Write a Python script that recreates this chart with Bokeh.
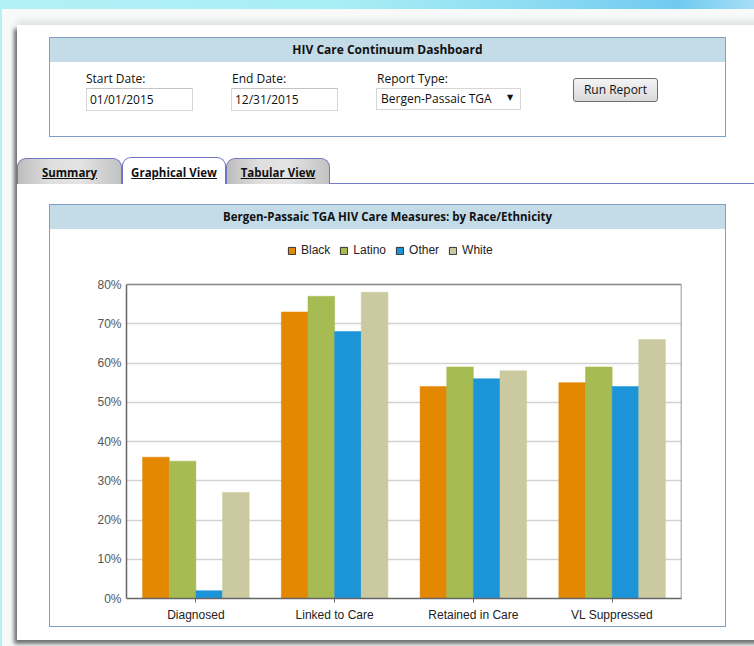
from bokeh.plotting import figure
from bokeh.models import (FactorRange, Range1d, Legend, LegendItem, FixedTicker,
                          PrintfTickFormatter, ColumnDataSource, Span, Div)
from bokeh.layouts import column, row
from bokeh.transform import dodge
from bokeh.embed import file_html
from bokeh.resources import INLINE

# ---------------- data ----------------
categories = ["Diagnosed", "Linked to Care", "Retained in Care", "VL Suppressed"]
series_names = ["Black", "Latino", "Other", "White"]
black = [36, 73, 54, 55]
latino = [35, 77, 59, 59]
other = [2, 68, 56, 54]
white = [27, 78, 58, 66]
colors = ["#E38800", "#A6BC52", "#1B95D8", "#CBC9A0"]
y_ticks = [0, 10, 20, 30, 40, 50, 60, 70, 80]
y_max = 80

chart_title = "Bergen-Passaic TGA HIV Care Measures: by Race/Ethnicity"
dash_title = "HIV Care Continuum Dashboard"
start_date = "01/01/2015"
end_date = "12/31/2015"
report_type = "Bergen-Passaic TGA"
tabs = ["Summary", "Graphical View", "Tabular View"]

# ---------------- geometry (page pixels) ----------------
PW, PH = 754, 646
FIG_L, FIG_T, FIG_R, FIG_B = 50, 229, 725, 626      # figure area inside chart panel
F_L, F_R, F_T, F_B = 126, 681, 231, 598             # plotting frame
Y80 = 284                                           # pixel row of the 80% line
y_end = y_max * (F_B - F_T) / (F_B - Y80)

src = ColumnDataSource(dict(cat=categories, Black=black, Latino=latino, Other=other, White=white))

p = figure(width=FIG_R - FIG_L, height=FIG_B - FIG_T,
           x_range=FactorRange(*categories, range_padding=0),
           y_range=Range1d(0, y_end), output_backend="svg", toolbar_location=None,
           min_border_left=F_L - FIG_L, min_border_right=FIG_R - F_R,
           min_border_top=F_T - FIG_T, min_border_bottom=FIG_B - F_B, margin=0)
p.border_fill_color = "white"
p.background_fill_color = "white"
p.outline_line_color = None

bw = 0.192
offsets = [-1.5 * bw, -0.5 * bw, 0.5 * bw, 1.5 * bw]
legend_items = []
for name, col, off in zip(series_names, colors, offsets):
    p.vbar(x=dodge("cat", off, range=p.x_range), top=name, width=bw, bottom=0, source=src,
           fill_color=col, line_color=col, line_alpha=0.5)
    # hidden twin used only for the legend swatch (dark outline like the original)
    proxy = p.vbar(x=dodge("cat", off, range=p.x_range), top=name, width=bw, bottom=0, source=src,
                   fill_color=col, line_color="#333333", line_width=1, visible=False)
    legend_items.append(LegendItem(label=name, renderers=[proxy]))

# frame border at top (80%) and right
p.add_layout(Span(location=y_max, dimension="width", line_color="#8a8a8a", line_width=1.5))
p.segment(x0=[len(categories)], y0=[0], x1=[len(categories)], y1=[y_max],
          line_color="#777777", line_width=1.5)

# axes
p.yaxis.ticker = FixedTicker(ticks=y_ticks)
p.yaxis.formatter = PrintfTickFormatter(format="%d%%")
p.yaxis.bounds = (0, y_max)
for ax in (p.xaxis[0], p.yaxis[0]):
    ax.axis_line_color = "#666666"
    ax.axis_line_width = 1.5
    ax.major_tick_line_color = "#666666"
    ax.minor_tick_line_color = None
    ax.major_label_text_font = "Liberation Sans"
    ax.major_label_text_font_size = "12px"
    ax.major_label_standoff = 5
p.yaxis.major_tick_out = 0
p.yaxis.major_tick_in = 0
p.yaxis.major_label_text_color = "#555555"
p.xaxis.major_tick_out = 4
p.xaxis.major_tick_in = 0
p.xaxis.major_label_text_color = "#222222"
p.xgrid.visible = False
p.ygrid.grid_line_color = "#d2d2d2"
p.ygrid.grid_line_width = 1.5

legend = Legend(items=legend_items, orientation="horizontal",
                location=(283 - F_L, F_B - 261), margin=0, padding=4, spacing=9,
                glyph_width=9, glyph_height=9, label_standoff=5, label_height=12,
                label_text_font="Liberation Sans", label_text_font_size="12px",
                label_text_color="#222222", background_fill_alpha=0, border_line_alpha=0,
                inactive_fill_alpha=0)
p.add_layout(legend)

# ---------------- page decorations (HTML) ----------------
FONT = "font-family:'Open Sans',sans-serif;"
parts = []   # (left, top, width, height, is_text, html)


def el(l, t, w, h, style="", content=""):
    parts.append((l, t, w, h, False,
                  f'<div style="position:absolute;box-sizing:border-box;left:{l}px;top:{t}px;'
                  f'width:{w}px;height:{h}px;{style}">{content}</div>'))


def txt(l, cy, s, size=12, bold=False, w=None, align="left", color="#111", extra=""):
    lh = 16
    width = f"width:{w}px;" if w else ""
    parts.append((l, cy - lh / 2, w or 150, lh, True,
                  f'<div style="position:absolute;left:{l}px;top:{cy - lh / 2}px;{width}height:{lh}px;'
                  f'line-height:{lh}px;{FONT}font-size:{size}px;font-weight:{"bold" if bold else "normal"};'
                  f'color:{color};text-align:{align};white-space:nowrap;{extra}">{s}</div>'))


# background
el(0, 0, PW, PH, "background:#f8fafa;")
el(0, 0, PW, 9, "background:linear-gradient(90deg,#b2f1f6 0%,#a8eef5 45%,#8edcf3 70%,"
                "#70caf0 90%,#a6def6 100%);")
el(0, 9, 2, PH - 9, "background:#b6f0f4;")
# inner white panel with shadow
el(17, 25, 800, 615, "background:#fff;box-shadow:-3px 4px 4px rgba(0,0,0,0.55),"
                     "0 -4px 7px rgba(0,0,0,0.10);")
# header panel
el(49, 37, 677, 100, "border:1px solid #7f9fc4;background:#fff;")
el(50, 38, 675, 24, "background:#c3dce7;")
txt(50, 50, dash_title, bold=True, w=675, align="center")
# form
txt(86, 79, "Start Date:")
el(86, 88, 107, 23, "border:1px solid #d6d6d6;border-top-color:#c4c4c4;background:#fff;")
txt(90, 100, start_date)
txt(232, 79, "End Date:")
el(231, 88, 107, 23, "border:1px solid #d6d6d6;border-top-color:#c4c4c4;background:#fff;")
txt(235, 100, end_date)
txt(377, 79, "Report Type:")
el(376, 88, 145, 22, "border:1px solid #d6d6d6;background:#fff;")
txt(381, 99, report_type)
txt(507, 98, "&#9660;", size=8, w=10, extra="font-family:'DejaVu Sans';")
el(573, 78, 85, 24, "border:1px solid #6f6f6f;border-radius:3px;"
                    "background:linear-gradient(#f4f4f4,#d9d9d9);")
txt(573, 90, "Run Report", w=85, align="center")
# tabs
tab_bg = "background:linear-gradient(90deg,#bdbdbd 0%,#dedede 30%,#e4e4e4 60%,#c2c2c2 100%);"
el(17, 183, 760, 1, "background:#7878c8;")
el(17, 158, 105, 26, "border:1px solid #7373c4;border-bottom:none;border-radius:9px 9px 0 0;" + tab_bg)
el(226, 158, 104, 26, "border:1px solid #7373c4;border-bottom:none;border-radius:9px 9px 0 0;" + tab_bg)
el(122, 157, 104, 27, "border:1px solid #7373c4;border-bottom:none;border-radius:9px 9px 0 0;"
                      "background:#fff;")
u = "text-decoration:underline;"
txt(17, 172.5, tabs[0], size=11.5, bold=True, w=105, align="center", extra=u)
txt(122, 172.5, tabs[1], size=11.5, bold=True, w=104, align="center", extra=u)
txt(226, 172.5, tabs[2], size=11.5, bold=True, w=104, align="center", extra=u)
# chart panel
el(49, 204, 677, 423, "border:1px solid #7f9fc4;background:#fff;")
el(50, 205, 675, 24, "background:#c3dce7;")
txt(50, 217, chart_title, size=11.5, bold=True, w=675, align="center")


def slice_div(ox, oy, w, h):
    inner = []
    for (l, t, pw, ph, is_text, html) in parts:
        if is_text:
            cx, cy = l + pw / 2, t + ph / 2
            if not (ox <= cx < ox + w and oy <= cy < oy + h):
                continue
        elif l + pw <= ox or l >= ox + w or t + ph <= oy or t >= oy + h:
            continue
        inner.append(html)
    html = (f'<div style="position:relative;width:{w}px;height:{h}px;overflow:hidden;">'
            f'<div style="position:absolute;left:{-ox}px;top:{-oy}px;width:{PW}px;height:{PH}px;">'
            f'{"".join(inner)}</div></div>')
    return Div(text=html, width=w, height=h, margin=0)


top = slice_div(0, 0, PW, FIG_T)
left = slice_div(0, FIG_T, FIG_L, FIG_B - FIG_T)
right = slice_div(FIG_R, FIG_T, PW - FIG_R, FIG_B - FIG_T)
bottom = slice_div(0, FIG_B, PW, PH - FIG_B)

layout = column(top, row(left, p, right, spacing=0, margin=0), bottom, spacing=0, margin=0)

open("out.html", "w").write(file_html(layout, INLINE))
